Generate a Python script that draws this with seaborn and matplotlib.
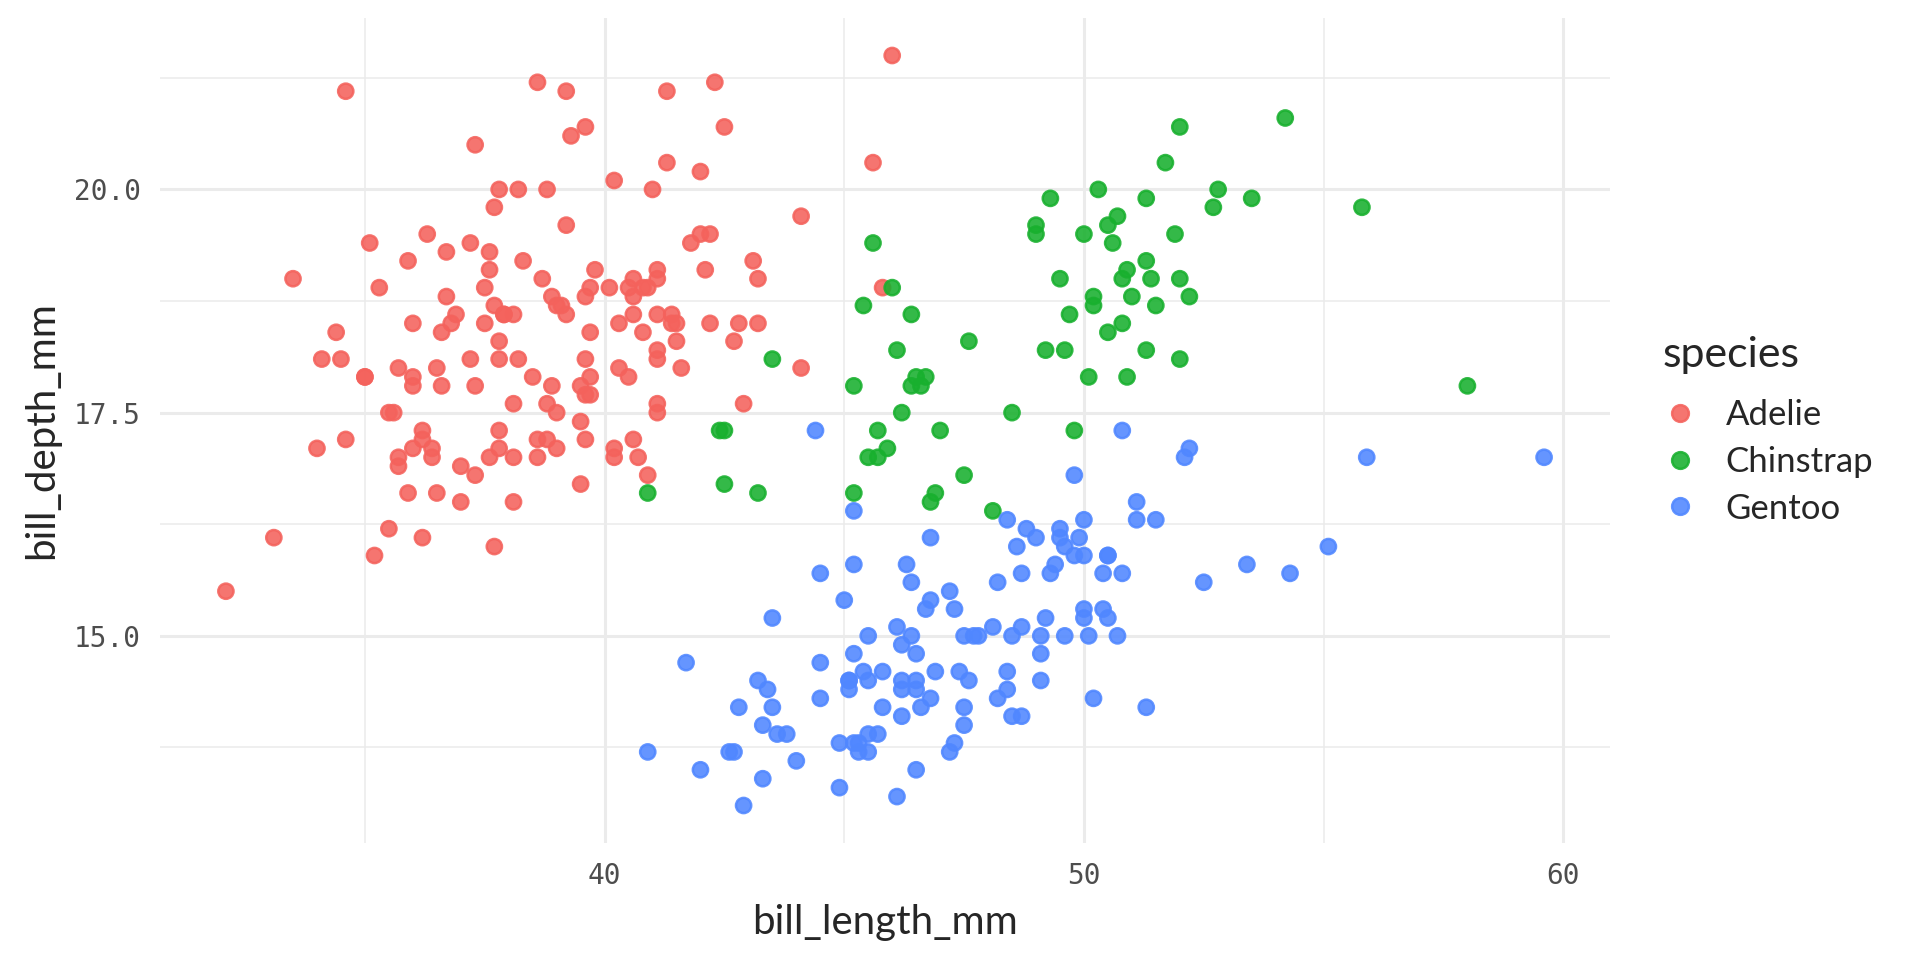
import pandas as pd
import matplotlib
matplotlib.use("Agg")
import matplotlib.pyplot as plt
import seaborn as sns

# bill length / bill depth (mm)
adelie = [(39.1, 18.7), (39.5, 17.4), (40.3, 18.0), (36.7, 19.3), (39.3, 20.6), (38.9, 17.8), (39.2, 19.6),
          (34.1, 18.1), (42.0, 20.2), (37.8, 17.1), (37.8, 17.3), (41.1, 17.6), (38.6, 21.2), (34.6, 21.1),
          (36.6, 17.8), (38.7, 19.0), (42.5, 20.7), (34.4, 18.4), (46.0, 21.5), (37.8, 18.3), (37.7, 18.7),
          (35.9, 19.2), (38.2, 18.1), (38.8, 17.2), (35.3, 18.9), (40.6, 18.6), (40.5, 17.9), (37.9, 18.6),
          (40.5, 18.9), (39.5, 16.7), (37.2, 18.1), (39.5, 17.8), (40.9, 18.9), (36.4, 17.0), (39.2, 21.1),
          (38.8, 20.0), (42.2, 18.5), (37.6, 19.3), (39.8, 19.1), (36.5, 18.0), (40.8, 18.4), (36.0, 18.5),
          (44.1, 19.7), (37.0, 16.9), (39.6, 18.8), (41.1, 19.0), (37.5, 18.9), (36.0, 17.9), (42.3, 21.2),
          (39.6, 17.7), (40.1, 18.9), (35.0, 17.9), (42.0, 19.5), (34.5, 18.1), (41.4, 18.6), (39.0, 17.5),
          (40.6, 18.8), (36.5, 16.6), (37.6, 19.1), (35.7, 16.9), (41.3, 21.1), (37.6, 17.0), (41.1, 18.2),
          (36.4, 17.1), (41.6, 18.0), (35.5, 16.2), (41.1, 19.1), (35.9, 16.6), (41.8, 19.4), (33.5, 19.0),
          (39.7, 18.4), (39.6, 17.2), (45.8, 18.9), (35.5, 17.5), (42.8, 18.5), (40.9, 16.8), (37.2, 19.4),
          (36.2, 16.1), (42.1, 19.1), (34.6, 17.2), (42.9, 17.6), (36.7, 18.8), (35.1, 19.4), (37.3, 17.8),
          (41.3, 20.3), (36.3, 19.5), (36.9, 18.6), (38.3, 19.2), (38.9, 18.8), (35.7, 18.0), (41.1, 18.1),
          (34.0, 17.1), (39.6, 18.1), (36.2, 17.3), (40.8, 18.9), (38.1, 18.6), (40.3, 18.5), (33.1, 16.1),
          (43.2, 18.5), (35.0, 17.9), (41.0, 20.0), (37.7, 16.0), (37.8, 20.0), (37.9, 18.6), (39.7, 18.9),
          (38.6, 17.2), (38.2, 20.0), (38.1, 17.0), (43.2, 19.0), (38.1, 16.5), (45.6, 20.3), (39.7, 17.7),
          (42.2, 19.5), (39.6, 20.7), (42.7, 18.3), (38.6, 17.0), (37.3, 20.5), (35.7, 17.0), (41.1, 18.6),
          (36.2, 17.2), (37.7, 19.8), (40.2, 17.0), (41.4, 18.5), (35.2, 15.9), (40.6, 19.0), (38.8, 17.6),
          (41.5, 18.3), (39.0, 17.1), (44.1, 18.0), (38.5, 17.9), (43.1, 19.2), (36.8, 18.5), (37.5, 18.5),
          (38.1, 17.6), (41.1, 17.5), (35.6, 17.5), (40.2, 20.1), (37.0, 16.5), (39.7, 17.9), (40.2, 17.1),
          (40.6, 17.2), (32.1, 15.5), (40.7, 17.0), (37.3, 16.8), (39.0, 18.7), (39.2, 18.6), (36.6, 18.4),
          (36.0, 17.8), (37.8, 18.1), (36.0, 17.1), (41.5, 18.5)]

chinstrap = [(46.5, 17.9), (50.0, 19.5), (51.3, 19.2), (45.4, 18.7), (52.7, 19.8), (45.2, 17.8), (46.1, 18.2),
             (51.3, 18.2), (46.0, 18.9), (51.3, 19.9), (46.6, 17.8), (51.7, 20.3), (47.0, 17.3), (52.0, 18.1),
             (45.9, 17.1), (50.5, 19.6), (50.3, 20.0), (58.0, 17.8), (46.4, 18.6), (49.2, 18.2), (42.4, 17.3),
             (48.5, 17.5), (43.2, 16.6), (50.6, 19.4), (46.7, 17.9), (52.0, 19.0), (50.5, 18.4), (49.5, 19.0),
             (46.4, 17.8), (52.8, 20.0), (40.9, 16.6), (54.2, 20.8), (42.5, 16.7), (51.0, 18.8), (49.7, 18.6),
             (47.5, 16.8), (47.6, 18.3), (52.0, 20.7), (46.9, 16.6), (53.5, 19.9), (49.0, 19.5), (46.2, 17.5),
             (50.9, 19.1), (45.5, 17.0), (50.9, 17.9), (50.8, 18.5), (50.1, 17.9), (49.0, 19.6), (51.5, 18.7),
             (49.8, 17.3), (48.1, 16.4), (51.4, 19.0), (45.7, 17.3), (50.7, 19.7), (42.5, 17.3), (52.2, 18.8),
             (45.2, 16.6), (49.3, 19.9), (50.2, 18.8), (45.6, 19.4), (51.9, 19.5), (46.8, 16.5), (45.7, 17.0),
             (55.8, 19.8), (43.5, 18.1), (49.6, 18.2), (50.8, 19.0), (50.2, 18.7)]

gentoo = [(46.1, 13.2), (50.0, 16.3), (48.7, 14.1), (50.0, 15.2), (47.6, 14.5), (46.5, 13.5), (45.4, 14.6),
          (46.7, 15.3), (43.3, 13.4), (46.8, 15.4), (40.9, 13.7), (49.0, 16.1), (45.5, 13.7), (48.4, 14.6),
          (45.8, 14.6), (49.3, 15.7), (42.0, 13.5), (49.2, 15.2), (46.2, 14.5), (48.7, 15.1), (50.2, 14.3),
          (45.1, 14.5), (46.5, 14.5), (46.3, 15.8), (42.9, 13.1), (46.1, 15.1), (44.5, 14.3), (47.8, 15.0),
          (48.2, 14.3), (50.0, 15.3), (47.3, 15.3), (42.8, 14.2), (45.1, 14.5), (59.6, 17.0), (49.1, 14.8),
          (48.4, 16.3), (42.6, 13.7), (44.4, 17.3), (44.0, 13.6), (48.7, 15.7), (42.7, 13.7), (49.6, 16.0),
          (45.3, 13.7), (49.6, 15.0), (50.5, 15.9), (43.6, 13.9), (45.5, 13.9), (50.5, 15.9), (44.9, 13.3),
          (45.2, 15.8), (46.6, 14.2), (48.5, 14.1), (45.1, 14.4), (50.1, 15.0), (46.5, 14.4), (45.0, 15.4),
          (43.8, 13.9), (45.5, 15.0), (43.2, 14.5), (50.4, 15.3), (45.3, 13.8), (46.2, 14.9), (45.7, 13.9),
          (54.3, 15.7), (45.8, 14.2), (49.8, 16.8), (46.2, 14.4), (49.5, 16.2), (43.5, 14.2), (50.7, 15.0),
          (47.7, 15.0), (46.4, 15.6), (48.2, 15.6), (46.5, 14.8), (46.4, 15.0), (48.6, 16.0), (47.5, 14.2),
          (51.1, 16.3), (45.2, 13.8), (45.2, 16.4), (49.1, 14.5), (52.5, 15.6), (47.4, 14.6), (50.0, 15.9),
          (44.9, 13.8), (50.8, 17.3), (43.4, 14.4), (51.3, 14.2), (47.5, 14.0), (52.1, 17.0), (47.5, 15.0),
          (52.2, 17.1), (45.5, 14.5), (49.5, 16.1), (44.5, 14.7), (50.8, 15.7), (49.4, 15.8), (46.9, 14.6),
          (48.4, 14.4), (51.1, 16.5), (48.5, 15.0), (55.9, 17.0), (47.2, 15.5), (49.1, 15.0), (47.3, 13.8),
          (46.8, 16.1), (41.7, 14.7), (53.4, 15.8), (43.3, 14.0), (48.1, 15.1), (50.5, 15.2), (49.8, 15.9),
          (43.5, 15.2), (51.5, 16.3), (46.2, 14.1), (55.1, 16.0), (44.5, 15.7), (48.8, 16.2), (47.2, 13.7),
          (46.8, 14.3), (50.4, 15.7), (45.2, 14.8), (49.9, 16.1)]

species = ["Adelie", "Chinstrap", "Gentoo"]
colors = ["#F4625C", "#18B02E", "#5087FF"]

rows = []
for name, pts in zip(species, [adelie, chinstrap, gentoo]):
    for bl, bd in pts:
        rows.append({"bill_length_mm": bl, "bill_depth_mm": bd, "species": name})
df = pd.DataFrame(rows)

sns.set_style("white")
plt.rcParams["font.family"] = ["Lato", "DejaVu Sans"]

fig = plt.figure(figsize=(9.6, 4.8), dpi=200)
ax = fig.add_axes([160 / 1920, 1 - 843 / 960, 1450 / 1920, 825 / 960])

sns.scatterplot(data=df, x="bill_length_mm", y="bill_depth_mm", hue="species",
                hue_order=species, palette=colors, s=30, alpha=0.88,
                edgecolor="face", linewidth=0.9, ax=ax, zorder=3)

ax.set_xlim(30.725, 60.975)
ax.set_ylim(12.68, 21.92)
ax.set_xticks([40, 50, 60])
ax.set_xticks([35, 45, 55], minor=True)
ax.set_yticks([15, 17.5, 20])
ax.set_yticklabels(["15.0", "17.5", "20.0"])
ax.set_yticks([13.75, 16.25, 18.75, 21.25], minor=True)
ax.grid(which="major", color="#EBEBEB", linewidth=1.1)
ax.grid(which="minor", color="#EBEBEB", linewidth=0.55)
ax.set_axisbelow(True)
for sp in ax.spines.values():
    sp.set_visible(False)
ax.tick_params(which="both", length=0, pad=7, labelsize=10, labelcolor="#4D4D4D")
for lab in ax.get_xticklabels() + ax.get_yticklabels():
    lab.set_family(["DejaVu Sans Mono"])

ax.set_xlabel("bill_length_mm", fontsize=14.5, labelpad=5)
ax.set_ylabel("bill_depth_mm", fontsize=14.5, labelpad=5)

sns.move_legend(ax, "center left", bbox_to_anchor=(1.015, 0.5), frameon=False,
                title="species", fontsize=12.5, title_fontsize=15.5, handlelength=1.0,
                handletextpad=0.8, labelspacing=0.42, alignment="left", markerscale=1.1)
leg = ax.get_legend()
leg._legend_box.sep = 9  # a bit more room under the title, like ggplot

fig.savefig("out.png", dpi=200, facecolor="white")
